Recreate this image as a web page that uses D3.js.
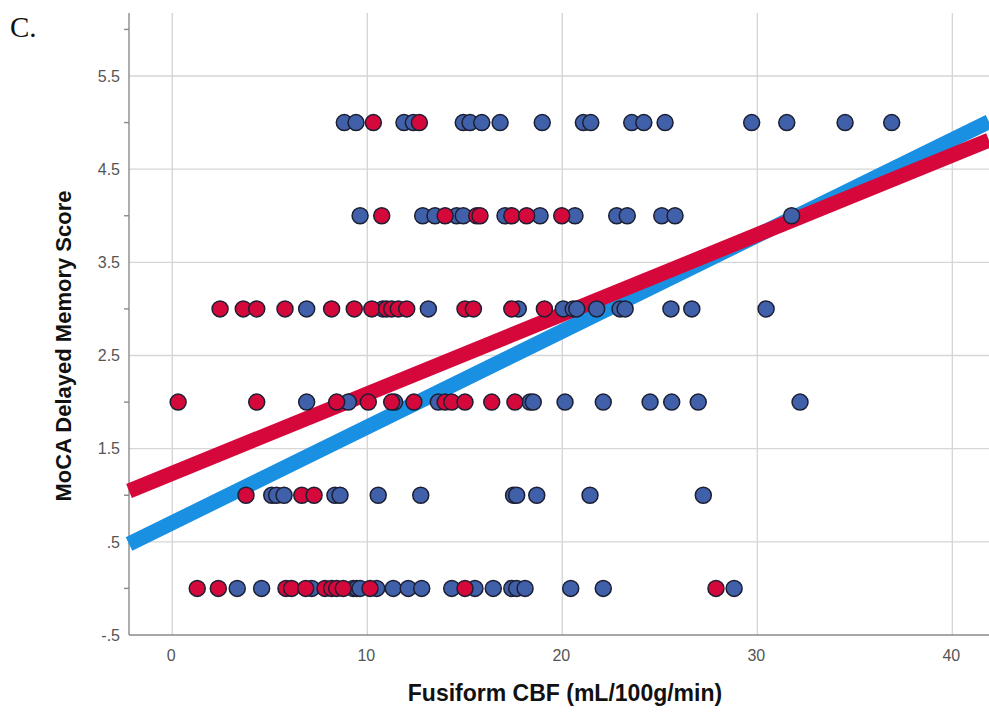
<!DOCTYPE html>
<html>
<head>
<meta charset="utf-8">
<script src="https://cdn.jsdelivr.net/npm/d3@7"></script>
<style>
  body { margin: 0; background: #fff; }
  svg { display: block; }
  .tick-label { font-family: "Liberation Sans", Arial, sans-serif; fill: #555; }
  .axis-title { font-family: "Liberation Sans", Arial, sans-serif; font-weight: bold; fill: #111; }
</style>
</head>
<body>
<div class="cbf-viz"></div>
<script>
// Fusiform CBF values per MoCA delayed memory score
const blueScore0 = [3.33, 4.58, 7.15, 9.28, 9.46, 9.63, 10.48, 11.33, 12.10, 12.79, 14.33, 15.52, 16.46, 17.41, 17.66, 18.09, 20.43, 22.10, 28.81];
const blueScore1 = [5.10, 5.35, 5.73, 8.34, 8.60, 10.56, 12.74, 17.50, 17.66, 18.69, 21.42, 27.23];
const blueScore2 = [6.89, 9.03, 11.40, 13.64, 18.34, 18.51, 20.14, 22.10, 24.50, 25.61, 26.97, 32.19];
const blueScore3 = [6.89, 10.80, 13.13, 17.74, 20.05, 20.56, 20.74, 21.76, 22.96, 23.22, 25.57, 26.64, 30.45];
const blueScore4 = [9.63, 12.84, 13.47, 14.58, 14.92, 17.06, 18.86, 20.65, 22.79, 23.33, 25.10, 25.78, 31.76];
const blueScore5 = [8.82, 9.42, 11.88, 12.36, 14.92, 15.27, 15.87, 16.81, 18.97, 21.08, 21.46, 23.56, 24.18, 25.27, 29.71, 31.51, 34.50, 36.89];

const redScore0 = [1.28, 2.36, 5.83, 6.12, 6.84, 7.83, 8.17, 8.43, 8.77, 10.14, 15.01, 27.88];
const redScore1 = [3.78, 6.64, 7.27];
const redScore2 = [0.30, 4.33, 8.43, 10.05, 11.25, 12.39, 13.99, 14.33, 15.01, 16.38, 17.57];
const redScore3 = [2.45, 3.64, 4.33, 5.78, 8.17, 9.33, 10.23, 10.99, 11.25, 11.59, 12.02, 15.01, 15.44, 17.41, 19.08];
const redScore4 = [10.74, 13.99, 15.61, 15.78, 17.41, 18.17, 19.97];
const redScore5 = [10.31, 12.67];

// fit lines: [intercept, slope]
const blueFit = [0.705, 0.1028];
const redFit = [1.235, 0.0854];

const xTicks = [0, 10, 20, 30, 40];
const yTicks = [-0.5, 0.5, 1.5, 2.5, 3.5, 4.5, 5.5];
const yTickLabels = ["-.5", ".5", "1.5", "2.5", "3.5", "4.5", "5.5"];
const yMinorTicks = [0, 1, 2, 3, 4, 5, 6];

const WIDTH = 989,
    HEIGHT = 713;

const LEFT = 129, RIGHT = 989, TOP = 13, BOTTOM = 635;

const x = d3.scaleLinear().domain([-2.22, 41.88]).range([LEFT, RIGHT]);
const y = d3.scaleLinear().domain([-0.5, 5.5]).range([BOTTOM, 76]);

function toPoints(rows) {
    return rows.flatMap((row, score) => row.map(v => ({ cbf: v, score: score })));
}

const bluePoints = toPoints([blueScore0, blueScore1, blueScore2, blueScore3, blueScore4, blueScore5]);
const redPoints = toPoints([redScore0, redScore1, redScore2, redScore3, redScore4, redScore5]);

const svg = d3.select(".cbf-viz")
    .append("svg")
    .attr("width", WIDTH)
    .attr("height", HEIGHT);

// panel letter
svg.append("text")
    .attr("x", 10)
    .attr("y", 37)
    .style("font-family", "'Liberation Serif', 'Times New Roman', serif")
    .style("font-size", "29px")
    .style("fill", "#111")
    .text("C.");

// grid
svg.append("g")
    .selectAll("line")
    .data(xTicks)
    .join("line")
    .attr("x1", d => x(d)).attr("x2", d => x(d))
    .attr("y1", TOP).attr("y2", BOTTOM)
    .attr("stroke", "#d6d6d6")
    .attr("stroke-width", 1.4);

svg.append("g")
    .selectAll("line")
    .data(yTicks.slice(1))
    .join("line")
    .attr("x1", LEFT).attr("x2", RIGHT)
    .attr("y1", d => y(d)).attr("y2", d => y(d))
    .attr("stroke", "#d6d6d6")
    .attr("stroke-width", 1.4);

// axes lines
svg.append("line")
    .attr("x1", LEFT).attr("x2", LEFT)
    .attr("y1", TOP).attr("y2", BOTTOM)
    .attr("stroke", "#8a8a8a")
    .attr("stroke-width", 1.4);

svg.append("line")
    .attr("x1", LEFT).attr("x2", RIGHT)
    .attr("y1", BOTTOM).attr("y2", BOTTOM)
    .attr("stroke", "#8a8a8a")
    .attr("stroke-width", 1.6);

// minor y ticks
svg.append("g")
    .selectAll("line")
    .data(yMinorTicks)
    .join("line")
    .attr("x1", LEFT - 5).attr("x2", LEFT)
    .attr("y1", d => y(d)).attr("y2", d => y(d))
    .attr("stroke", "#8a8a8a")
    .attr("stroke-width", 1.4);

// tick labels
svg.append("g")
    .selectAll("text")
    .data(yTicks)
    .join("text")
    .attr("class", "tick-label")
    .attr("x", 120)
    .attr("y", d => y(d))
    .attr("dy", "0.36em")
    .attr("text-anchor", "end")
    .style("font-size", "16px")
    .text((d, i) => yTickLabels[i]);

svg.append("g")
    .selectAll("text")
    .data(xTicks)
    .join("text")
    .attr("class", "tick-label")
    .attr("x", d => x(d) - 1)
    .attr("y", 655)
    .attr("dy", "0.36em")
    .attr("text-anchor", "middle")
    .style("font-size", "16px")
    .text(d => d);

// axis titles
svg.append("text")
    .attr("class", "axis-title")
    .attr("x", 565)
    .attr("y", 693)
    .attr("dy", "0.36em")
    .attr("text-anchor", "middle")
    .style("font-size", "23px")
    .text("Fusiform CBF (mL/100g/min)");

svg.append("text")
    .attr("class", "axis-title")
    .attr("transform", `translate(63, 346) rotate(-90)`)
    .attr("dy", "0.36em")
    .attr("text-anchor", "middle")
    .style("font-size", "22px")
    .text("MoCA Delayed Memory Score");

// fit lines
const domain = x.domain();
[[blueFit, "#1990e2"], [redFit, "#d6083b"]].forEach(([fit, color]) => {
    svg.append("line")
        .attr("x1", x(domain[0]))
        .attr("y1", y(fit[0] + fit[1] * domain[0]))
        .attr("x2", x(domain[1]))
        .attr("y2", y(fit[0] + fit[1] * domain[1]))
        .attr("stroke", color)
        .attr("stroke-width", 15);
});

// points
[[bluePoints, "#4160aa"], [redPoints, "#d5083c"]].forEach(([pts, color]) => {
    svg.append("g")
        .selectAll("circle")
        .data(pts)
        .join("circle")
        .attr("cx", d => x(d.cbf))
        .attr("cy", d => y(d.score))
        .attr("r", 8)
        .attr("fill", color)
        .attr("stroke", "#1c1f33")
        .attr("stroke-width", 1.5);
});
</script>
</body>
</html>
